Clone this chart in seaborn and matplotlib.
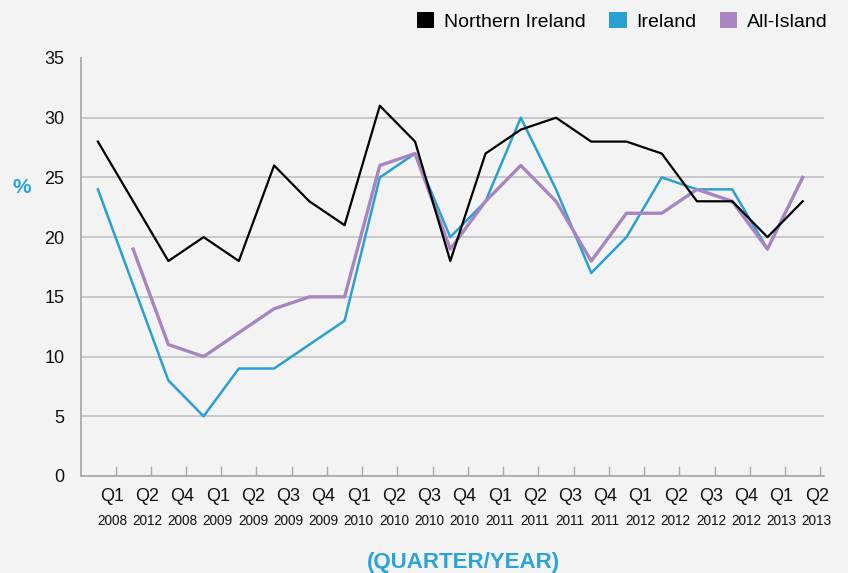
import numpy as np
import pandas as pd
import seaborn as sns
import matplotlib.pyplot as plt
from matplotlib.patches import Patch

# quarter / year labels along the x axis
quarters = ["Q1", "Q2", "Q4", "Q1", "Q2", "Q3", "Q4", "Q1", "Q2", "Q3", "Q4",
            "Q1", "Q2", "Q3", "Q4", "Q1", "Q2", "Q3", "Q4", "Q1", "Q2"]
years = ["2008", "2012", "2008", "2009", "2009", "2009", "2009", "2010", "2010", "2010", "2010",
         "2011", "2011", "2011", "2011", "2012", "2012", "2012", "2012", "2013", "2013"]

# values in %
northern_ireland = [28, 23, 18, 20, 18, 26, 23, 21, 31, 28, 18,
                    27, 29, 30, 28, 28, 27, 23, 23, 20, 23]
ireland = [24, 16, 8, 5, 9, 9, 11, 13, 25, 27, 20,
           23, 30, 24, 17, 20, 25, 24, 24, 19, 25]
all_island = [np.nan, 19, 11, 10, 12, 14, 15, 15, 26, 27, 19,
              23, 26, 23, 18, 22, 22, 24, 23, 19, 25]

series = ["Northern Ireland", "Ireland", "All-Island"]
colors = {"Northern Ireland": "#000000", "Ireland": "#2A9FD2", "All-Island": "#A885C1"}
widths = {"Northern Ireland": 1.6, "Ireland": 1.8, "All-Island": 2.4}

df = pd.DataFrame({
    "idx": list(range(len(quarters))) * 3,
    "value": northern_ireland + ireland + all_island,
    "series": [s for s in series for _ in quarters],
})

bg = "#F3F3F3"
blue = "#2AA3DA"
plt.rcParams["font.family"] = ["Liberation Sans", "DejaVu Sans"]

fig = plt.figure(figsize=(8.48, 5.73), dpi=100, facecolor=bg)
ax = fig.add_axes([0.0955, 0.1693, 0.876, 0.7295])
ax.set_facecolor(bg)

for s in ["Ireland", "All-Island", "Northern Ireland"]:
    sns.lineplot(data=df[df["series"] == s].dropna(), x="idx", y="value",
                 color=colors[s], linewidth=widths[s], ax=ax, legend=False)

ax.set_xlim(-0.48, 20.6)
ax.set_ylim(0, 35)
ax.set_yticks(range(0, 36, 5))
ax.tick_params(axis="y", length=0, pad=12, labelsize=13, labelcolor="#111111")
ax.yaxis.grid(True, color="#BDBDBD", linewidth=1.1)
ax.get_ygridlines()[-1].set_visible(False)
ax.set_axisbelow(True)

n = len(quarters)
ax.set_xticks(np.arange(n) + 0.5)
ax.set_xticklabels([])
ax.tick_params(axis="x", which="major", direction="in", length=7, color="#A8A8A8", width=1)
ax.set_xticks(np.arange(n) + 0.4, minor=True)
ax.set_xticklabels(quarters, minor=True)
ax.tick_params(axis="x", which="minor", length=0, pad=9, labelsize=13, labelcolor="#111111")
for i, y in enumerate(years):
    ax.text(i + 0.4, -0.107, y, transform=ax.get_xaxis_transform(),
            ha="center", va="center", fontsize=9.8, color="#111111")

for side in ["top", "right"]:
    ax.spines[side].set_visible(False)
for side in ["left", "bottom"]:
    ax.spines[side].set_color("#ABABAB")
    ax.spines[side].set_linewidth(1.3)

ax.set_xlabel("")
ax.set_ylabel("")
fig.text(0.026, 0.672, "%", color=blue, fontsize=15, fontweight="bold", ha="center", va="center")
fig.text(0.546, 0.018, "(QUARTER/YEAR)", color=blue, fontsize=16, fontweight="bold",
         ha="center", va="center")

handles = [Patch(facecolor=colors[s], edgecolor="none", label=s) for s in series]
fig.legend(handles=handles, loc="upper right", bbox_to_anchor=(0.997, 1.01), ncol=3,
           frameon=False, fontsize=14, handlelength=0.9, handleheight=0.9,
           handletextpad=0.5, columnspacing=1.2)

fig.savefig("out.png", dpi=100, facecolor=bg)
